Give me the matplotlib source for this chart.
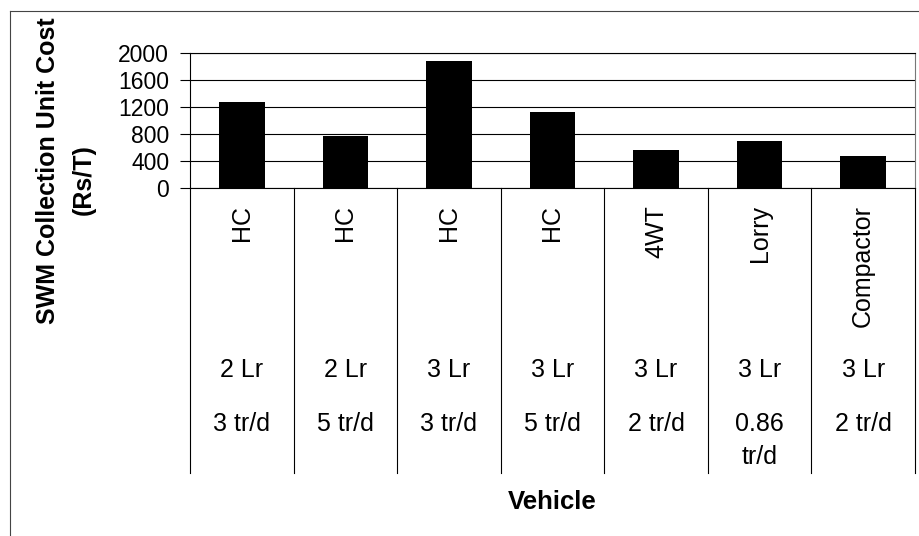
import matplotlib
matplotlib.use('Agg')
import matplotlib.pyplot as plt
from matplotlib.lines import Line2D

plt.rcParams['font.family'] = ['Liberation Sans', 'DejaVu Sans']

# data
vehicles = ['HC', 'HC', 'HC', 'HC', '4WT', 'Lorry', 'Compactor']
loaders = ['2 Lr', '2 Lr', '3 Lr', '3 Lr', '3 Lr', '3 Lr', '3 Lr']
trips = ['3 tr/d', '5 tr/d', '3 tr/d', '5 tr/d', '2 tr/d', '0.86\ntr/d', '2 tr/d']
cost = [1270, 775, 1875, 1130, 560, 700, 475]
yticks = [0, 400, 800, 1200, 1600, 2000]

W, H = 920, 536
fig = plt.figure(figsize=(W / 100, H / 100), dpi=100)

# plot area in pixels: left 190, right 915, top 53, bottom 188
left, right, top, bottom = 190, 915, 53, 188
ax = fig.add_axes([left / W, 1 - bottom / H, (right - left) / W, (bottom - top) / H])

x = list(range(len(cost)))
ax.bar(x, cost, width=0.44, color='black', zorder=3)

ax.set_ylim(0, 2000)
ax.set_yticks(yticks)
ax.set_yticklabels([str(v) for v in yticks])
ax.set_xlim(-0.5, len(cost) - 0.5)
ax.set_xticks([])
ax.yaxis.grid(True, color='black', linewidth=0.8)
ax.set_axisbelow(True)
ax.tick_params(axis='y', length=7, width=0.8, pad=8, labelsize=16.5, color='black')

for s in ['left', 'bottom', 'top']:
    ax.spines[s].set_color('black')
    ax.spines[s].set_linewidth(0.8)
ax.spines['right'].set_color('#777777')
ax.spines['right'].set_linewidth(0.8)

# category table under the axis
ph = bottom - top
def ya(py):
    return (bottom - py) / ph

tr = ax.get_xaxis_transform()
table_bottom = ya(473)
for i in range(len(cost) + 1):
    ax.add_line(Line2D([i - 0.5, i - 0.5], [0, table_bottom], transform=tr,
                       color='black', linewidth=0.8, clip_on=False))

for i in x:
    ax.text(i, ya(205), vehicles[i], transform=tr, rotation=90, ha='center', va='top',
            fontsize=18)
    ax.text(i, ya(370), loaders[i], transform=tr, ha='center', va='center', fontsize=18)
    ax.text(i, ya(412), trips[i], transform=tr, ha='center', va='top', fontsize=18,
            linespacing=1.45)

# axis titles
fig.text(48 / W, 1 - 171 / H, 'SWM Collection Unit Cost', rotation=90, ha='center',
         va='center', fontsize=18, fontweight='bold')
fig.text(84 / W, 1 - 180 / H, '(Rs/T)', rotation=90, ha='center', va='center',
         fontsize=18, fontweight='bold')
fig.text(552 / W, 1 - 502 / H, 'Vehicle', ha='center', va='center', fontsize=18.5,
         fontweight='bold')

# chart area border (top and left edges visible)
fig.add_artist(Line2D([10 / W, 1], [1 - 11 / H, 1 - 11 / H], transform=fig.transFigure,
                      color='#444444', linewidth=0.8))
fig.add_artist(Line2D([10 / W, 10 / W], [0, 1 - 11 / H], transform=fig.transFigure,
                      color='#444444', linewidth=0.8))

fig.savefig('out.png', dpi=100)
